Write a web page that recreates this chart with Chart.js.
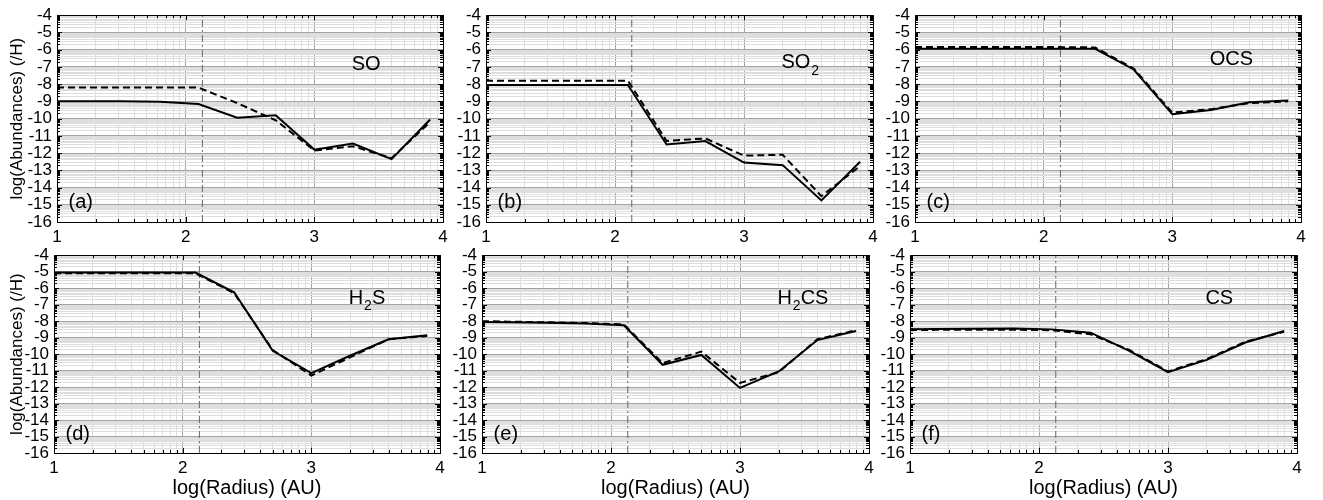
<!DOCTYPE html>
<html>
<head>
<meta charset="utf-8">
<script src="https://cdn.jsdelivr.net/npm/chart.js@4.4.0/dist/chart.umd.min.js"></script>
<style>
  html, body { margin: 0; padding: 0; background: #fff; }
  #wrap { position: relative; width: 1323px; height: 500px; overflow: hidden; background: #fff; }
  #wrap canvas { position: absolute; }
</style>
</head>
<body>
<div id="wrap"></div>
<script>
const radiusLog = [1.0, 1.2, 1.5, 1.8, 2.1, 2.4, 2.7, 3.0, 3.3, 3.6, 3.9];
const snowlineLog = 2.13;
const xMajor = [1, 2, 3, 4];
const xTickLabels = ["1", "2", "3", "4"];
const yMajor = [-16, -15, -14, -13, -12, -11, -10, -9, -8, -7, -6, -5, -4];
const yTickLabels = ["-16", "-15", "-14", "-13", "-12", "-11", "-10", "-9", "-8", "-7", "-6", "-5", "-4"];

const soSolid = [-9.0, -9.0, -9.0, -9.02, -9.15, -9.95, -9.8, -11.8, -11.45, -12.35, -10.05];
const soDashed = [-8.2, -8.2, -8.2, -8.2, -8.2, -9.1, -10.1, -11.85, -11.6, -12.3, -10.2];
const so2Solid = [-8.05, -8.05, -8.05, -8.05, -8.05, -11.5, -11.3, -12.55, -12.7, -14.75, -12.5];
const so2Dashed = [-7.8, -7.8, -7.8, -7.8, -7.8, -11.3, -11.15, -12.15, -12.1, -14.5, -12.75];
const ocsSolid = [-5.95, -5.95, -5.95, -5.95, -5.95, -5.95, -7.15, -9.75, -9.5, -9.05, -8.95];
const ocsDashed = [-5.85, -5.85, -5.85, -5.85, -5.85, -5.87, -7.1, -9.65, -9.45, -9.1, -9.0];
const h2sSolid = [-5.05, -5.05, -5.05, -5.05, -5.05, -6.25, -9.8, -11.15, -10.1, -9.1, -8.85];
const h2sDashed = [-5.1, -5.1, -5.1, -5.1, -5.1, -6.3, -9.75, -11.3, -10.2, -9.1, -8.9];
const h2csSolid = [-8.05, -8.07, -8.1, -8.15, -8.25, -10.65, -10.05, -12.05, -11.05, -9.15, -8.6];
const h2csDashed = [-8.0, -8.03, -8.07, -8.12, -8.2, -10.55, -9.85, -11.75, -11.1, -9.1, -8.55];
const csSolid = [-8.5, -8.48, -8.46, -8.45, -8.5, -8.7, -9.8, -11.1, -10.35, -9.3, -8.6];
const csDashed = [-8.55, -8.53, -8.52, -8.52, -8.55, -8.8, -9.75, -11.05, -10.3, -9.25, -8.65];

const FONT = "'Liberation Sans', Arial, Helvetica, sans-serif";
const MAJOR_GRID = "#a3a3a3";
const MINOR_GRID = "#dedede";

Chart.defaults.font.family = FONT;
Chart.defaults.color = "#000";

const panels = [
  { letter: "(a)", name: "SO", solid: soSolid, dashed: soDashed, box: [57, 13, 386, 209], nameY: -6.85, letterY: -14.85, yTitle: true, xTitle: false },
  { letter: "(b)", name: "SO_2", solid: so2Solid, dashed: so2Dashed, box: [486, 13, 387, 209], nameY: -6.76, letterY: -14.85, yTitle: false, xTitle: false },
  { letter: "(c)", name: "OCS", solid: ocsSolid, dashed: ocsDashed, box: [915, 13, 386, 209], nameY: -6.55, letterY: -14.85, yTitle: false, xTitle: false },
  { letter: "(d)", name: "H_2S", solid: h2sSolid, dashed: h2sDashed, box: [54, 253, 386, 200], nameY: -6.6, letterY: -14.85, yTitle: true, xTitle: true },
  { letter: "(e)", name: "H_2CS", solid: h2csSolid, dashed: h2csDashed, box: [482, 253, 387, 200], nameY: -6.6, letterY: -14.85, yTitle: false, xTitle: true },
  { letter: "(f)", name: "CS", solid: csSolid, dashed: csDashed, box: [910, 253, 387, 200], nameY: -6.6, letterY: -14.85, yTitle: false, xTitle: true },
];

function logMinors(lo, hi) {
  const out = [];
  for (let n = lo; n < hi; n++) {
    for (let k = 2; k <= 9; k++) out.push(n + Math.log10(k));
  }
  return out;
}

const xTicks = [...xMajor, ...logMinors(1, 4)].sort((a, b) => a - b);
const yTicks = [...yMajor, ...logMinors(-16, -4)].sort((a, b) => a - b);

function isMajor(v) {
  return Number.isInteger(v);
}

function gridColor(ctx) {
  return ctx.tick && isMajor(ctx.tick.value) ? MAJOR_GRID : MINOR_GRID;
}

function drawFormula(ctx, text, x, y) {
  const parts = text.split(/(_\d)/).filter(Boolean);
  let cx = x;
  ctx.textAlign = "left";
  ctx.textBaseline = "middle";
  for (const p of parts) {
    if (p.startsWith("_")) {
      ctx.font = `14px ${FONT}`;
      ctx.fillText(p.slice(1), cx + 1, y + 8);
      cx += ctx.measureText(p.slice(1)).width + 1;
    } else {
      ctx.font = `20px ${FONT}`;
      ctx.fillText(p, cx, y);
      cx += ctx.measureText(p).width;
    }
  }
}

const decor = {
  id: "decor",
  afterDraw(chart, args, opts) {
    const { ctx, chartArea: a, scales } = chart;
    const xs = scales.x;
    const ys = scales.y;
    ctx.save();
    ctx.strokeStyle = "#000";
    ctx.lineWidth = 1;
    ctx.beginPath();
    for (const v of xTicks) {
      const px = Math.round(xs.getPixelForValue(v)) + 0.5;
      const len = isMajor(v) ? 5 : 3;
      ctx.moveTo(px, a.bottom);
      ctx.lineTo(px, a.bottom - len);
      ctx.moveTo(px, a.top);
      ctx.lineTo(px, a.top + len);
    }
    for (const v of yTicks) {
      const py = Math.round(ys.getPixelForValue(v)) + 0.5;
      const len = isMajor(v) ? 5 : 3;
      ctx.moveTo(a.left, py);
      ctx.lineTo(a.left + len, py);
      ctx.moveTo(a.right, py);
      ctx.lineTo(a.right - len, py);
    }
    ctx.stroke();
    ctx.strokeRect(Math.round(a.left) + 0.5, Math.round(a.top) + 0.5, Math.round(a.right - a.left), Math.round(a.bottom - a.top));

    ctx.fillStyle = "#000";
    drawFormula(ctx, opts.name, xs.getPixelForValue(3.29), ys.getPixelForValue(opts.nameY));
    ctx.font = `20px ${FONT}`;
    ctx.textAlign = "left";
    ctx.textBaseline = "middle";
    ctx.fillText(opts.letter, xs.getPixelForValue(1.09), ys.getPixelForValue(opts.letterY));
    ctx.restore();
  },
};

const wrap = document.getElementById("wrap");

for (const p of panels) {
  const [bx, by, bw, bh] = p.box;
  const left = p.yTitle ? bx : 42;
  const top = 13;
  const right = 12;
  const bottom = p.xTitle ? 500 - (by + bh) : 28;
  const canvas = document.createElement("canvas");
  canvas.width = left + bw + right;
  canvas.height = top + bh + bottom;
  canvas.style.left = `${bx - left}px`;
  canvas.style.top = `${by - top}px`;
  canvas.style.width = `${canvas.width}px`;
  canvas.style.height = `${canvas.height}px`;
  wrap.appendChild(canvas);

  new Chart(canvas, {
    type: "line",
    data: {
      datasets: [
        {
          data: radiusLog.map((x, i) => ({ x, y: p.solid[i] })),
          borderColor: "#000",
          borderWidth: 2,
          pointRadius: 0,
          tension: 0,
        },
        {
          data: radiusLog.map((x, i) => ({ x, y: p.dashed[i] })),
          borderColor: "#000",
          borderWidth: 2,
          borderDash: [7, 4],
          pointRadius: 0,
          tension: 0,
        },
        {
          data: [
            { x: snowlineLog, y: yMajor[0] },
            { x: snowlineLog, y: yMajor[yMajor.length - 1] },
          ],
          borderColor: "#666",
          borderWidth: 1,
          borderDash: [7, 3, 2, 3],
          pointRadius: 0,
        },
      ],
    },
    options: {
      responsive: false,
      animation: false,
      devicePixelRatio: 1,
      layout: { padding: { left: 0, top, right, bottom: 0 } },
      plugins: {
        legend: { display: false },
        tooltip: { enabled: false },
        decor: { name: p.name, letter: p.letter, nameY: p.nameY, letterY: p.letterY },
      },
      scales: {
        x: {
          type: "linear",
          min: 1,
          max: 4,
          afterBuildTicks: (s) => { s.ticks = xTicks.map((value) => ({ value })); },
          afterFit: (s) => { s.height = bottom; },
          ticks: {
            autoSkip: false,
            maxRotation: 0,
            padding: 5,
            font: { size: 17 },
            color: "#000",
            callback: (v) => {
              const i = xMajor.indexOf(v);
              return i >= 0 ? xTickLabels[i] : "";
            },
          },
          grid: { color: gridColor, lineWidth: 1, drawTicks: false },
          border: { display: false },
          title: {
            display: p.xTitle,
            text: "log(Radius) (AU)",
            font: { size: 20 },
            color: "#000",
            padding: { top: 0, bottom: 0 },
          },
        },
        y: {
          type: "linear",
          min: -16,
          max: -4,
          afterBuildTicks: (s) => { s.ticks = yTicks.map((value) => ({ value })); },
          afterFit: (s) => { s.width = left; },
          ticks: {
            autoSkip: false,
            padding: 5,
            font: { size: 17 },
            color: "#000",
            callback: (v) => {
              const i = yMajor.indexOf(v);
              return i >= 0 ? yTickLabels[i] : "";
            },
          },
          grid: { color: gridColor, lineWidth: 1, drawTicks: false },
          border: { display: false },
          title: {
            display: p.yTitle,
            text: "log(Abundances) (/H)",
            font: { size: 17 },
            color: "#000",
            padding: { top: 7, bottom: 0 },
          },
        },
      },
    },
    plugins: [decor],
  });
}
</script>
</body>
</html>
